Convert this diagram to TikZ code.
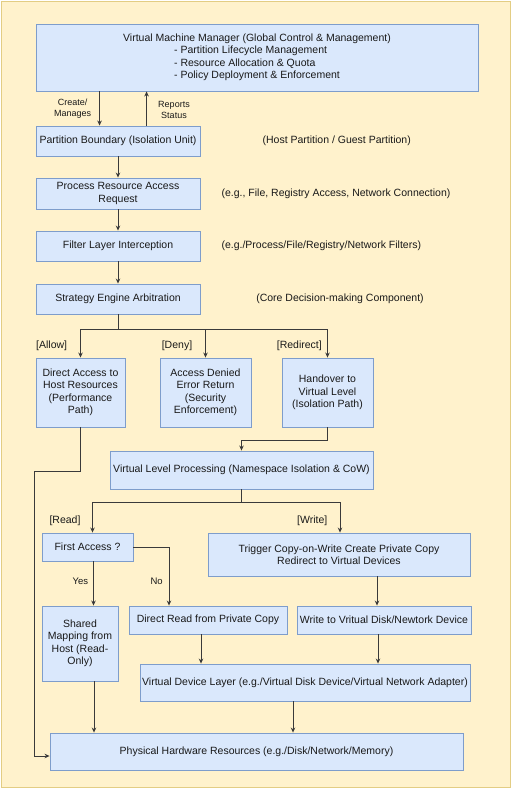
\documentclass[tikz,border=0pt]{standalone}
\usepackage{fontspec}
\setmainfont{Liberation Sans}
\usetikzlibrary{arrows.meta}
\definecolor{bgfill}{HTML}{FFF2CC}
\definecolor{bgdraw}{HTML}{E3CD84}
\definecolor{boxfill}{HTML}{DAE8FC}
\definecolor{boxdraw}{HTML}{7E9DCB}
\definecolor{linec}{HTML}{3A3A3A}
\tikzset{
  box/.style={draw=boxdraw, fill=boxfill, line width=0.9pt, align=center, inner sep=1pt,
    font=\fontsize{10.5}{12.5}\selectfont, text=black!90},
  note/.style={inner sep=0pt, align=center, font=\fontsize{10.5}{12.5}\selectfont, text=black!90},
  small/.style={inner sep=0pt, align=center, font=\fontsize{9}{11}\selectfont, text=black!90},
  conn/.style={draw=linec, line width=0.8pt},
  arr/.style={conn, -{Stealth[length=5pt,width=4.5pt]}},
}
\begin{document}
\begin{tikzpicture}[x=1pt,y=-1pt]
\useasboundingbox (0,0) rectangle (512,790);
\draw[fill=bgfill, draw=bgdraw, line width=1pt] (1.5,1.5) rectangle (510.5,787.5);

% boxes
\node[box, minimum width=442, minimum height=67] (vmm) at (257,57.5)
  {Virtual Machine Manager (Global Control \& Management)\\
   \rlap{- Partition Lifecycle Management}\phantom{- Policy Deployment \& Enforcement}\\
   \rlap{- Resource Allocation \& Quota}\phantom{- Policy Deployment \& Enforcement}\\
   - Policy Deployment \& Enforcement};
\node[box, minimum width=164, minimum height=30] (pb) at (118,141) {Partition Boundary (Isolation Unit)};
\node[box, minimum width=164, minimum height=31] (prr) at (118,193.5) {Process Resource Access\\Request};
\node[box, minimum width=164, minimum height=30] (fli) at (118,246) {Filter Layer Interception};
\node[box, minimum width=164, minimum height=30] (sea) at (118,299) {Strategy Engine Arbitration};

\node[box, minimum width=89, minimum height=69] (dir) at (80.5,392.5) {Direct Access to\\Host Resources\\(Performance\\Path)};
\node[box, minimum width=91, minimum height=69] (den) at (205.5,392.5) {Access Denied\\Error Return\\(Security\\Enforcement)};
\node[box, minimum width=91, minimum height=69] (hand) at (327.5,392.5) {Handover to\\Virtual Level\\(Isolation Path)};

\node[box, minimum width=263, minimum height=38] (vlp) at (241.5,470) {Virtual Level Processing (Namespace Isolation \& CoW)};

\node[box, minimum width=91, minimum height=28] (fa) at (87.5,547) {First Access ?};
\node[box, minimum width=262, minimum height=43] (trig) at (339,554.5) {Trigger Copy-on-Write Create Private Copy\\Redirect to Virtual Devices};

\node[box, minimum width=76, minimum height=75] (sh) at (80,643.5) {Shared\\Mapping from\\Host (Read-\\Only)};
\node[box, minimum width=158, minimum height=28] (drp) at (208,620) {Direct Read from Private Copy};
\node[box, minimum width=174, minimum height=28] (wv) at (384,620) {Write to Vritual Disk/Newtork Device};

\node[box, minimum width=330, minimum height=37] (vdl) at (305,682.5) {Virtual Device Layer (e.g./Virtual Disk Device/Virtual Network Adapter)};
\node[box, minimum width=413, minimum height=37] (phy) at (256.5,751.5) {Physical Hardware Resources (e.g./Disk/Network/Memory)};

% side notes
\node[note] (n1) at (336.7,141) {(Host Partition / Guest Partition)};
\node[note] (n2) at (336,193.7) {(e.g., File, Registry Access, Network Connection)};
\node[note] (n3) at (321.3,245.7) {(e.g./Process/File/Registry/Network Filters)};
\node[note] (n4) at (340,298.7) {(Core Decision-making Component)};

% labels
\node[small] (lcm) at (72.7,108.2) {Create/\\Manages};
\node[small] (lrs) at (174,109.5) {Reports\\Status};
\node[note] (lal) at (51.7,345.7) {[Allow]};
\node[note] (lde) at (177,345.7) {[Deny]};
\node[note] (lre) at (299.3,345.7) {[Redirect]};
\node[note] (lrd) at (65,520.7) {[Read]};
\node[note] (lwr) at (312.3,520.7) {[Write]};
\node[small, font=\fontsize{9.5}{11}\selectfont] (lye) at (80.3,581.7) {Yes};
\node[small, font=\fontsize{9.5}{11}\selectfont] (lno) at (156.7,581.7) {No};

% connectors
\draw[arr] ([xshift=64pt]vmm.south west) -- ([xshift=64pt]pb.north west);
\draw[arr] ([xshift=111pt]pb.north west) -- ([xshift=111pt]vmm.south west);
\draw[arr] (pb.south) -- (prr.north);
\draw[arr] (prr.south) -- (fli.north);
\draw[arr] (fli.south) -- (sea.north);

\coordinate (br) at (118,329);
\draw[arr] (sea.south) |- (br -| dir.north) -- (dir.north);
\draw[arr] (sea.south) |- (br -| den.north) -- (den.north);
\draw[arr] (sea.south) |- (br -| hand.north) -- (hand.north);

\draw[arr] (hand.south) |- ([yshift=10pt]vlp.north) -- (vlp.north);

\draw[arr] (dir.south) -- ++(0,44) -| ([xshift=-15pt,yshift=-4.5pt]phy.west) -- ([yshift=-4.5pt]phy.west);

\draw[arr] (vlp.south) |- ([xshift=5pt,yshift=30pt]fa.north) -- ([xshift=5pt]fa.north);
\draw[arr] (vlp.south) |- ([xshift=1pt,yshift=30pt]trig.north) -- ([xshift=1pt]trig.north);

\draw[arr] ([xshift=6pt]fa.south) -- ([xshift=6pt]fa.south |- sh.north);
\draw[arr] (fa.east) -| ([xshift=-39pt]drp.north);
\draw[arr] ([xshift=38pt]trig.south) -- ([xshift=38pt]trig.south |- wv.north);

\draw[arr] ([xshift=-7pt]drp.south) -- ([xshift=-7pt]drp.south |- vdl.north);
\draw[arr] ([xshift=-6pt]wv.south) -- ([xshift=-6pt]wv.south |- vdl.north);
\draw[arr] ([xshift=14pt]sh.south) -- ([xshift=14pt]sh.south |- phy.north);
\draw[arr] ([xshift=-12pt]vdl.south) -- ([xshift=-12pt]vdl.south |- phy.north);
\end{tikzpicture}
\end{document}
